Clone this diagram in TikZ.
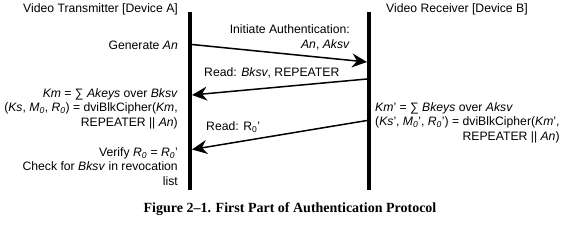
\documentclass[tikz,border=0pt]{standalone}
\usepackage{fontspec}
\setmainfont{Liberation Sans}
\newfontfamily\capfont{Liberation Serif}
\usetikzlibrary{arrows.meta}
\begin{document}
\begin{tikzpicture}[x=1pt,y=-1pt,
  lifeline/.style={line width=4pt},
  msg/.style={line width=1.5pt,-{Stealth[length=15pt,width=14pt,inset=5pt]}},
  lbl/.style={inner sep=0pt,font=\fontsize{12.2}{14.6}\selectfont},
  lblr/.style={lbl,anchor=east,align=right},
  lbll/.style={lbl,anchor=west,align=left}]
\useasboundingbox (0,0) rectangle (567,240);
% lifelines
\coordinate (atop) at (190,12);
\coordinate (abot) at (190,190);
\coordinate (btop) at (369,12);
\coordinate (bbot) at (369,190);
\draw[lifeline] (atop) -- (abot);
\draw[lifeline] (btop) -- (bbot);
% headers
\node[lblr] (hA) at (178,9) {Video Transmitter [Device A]};
\node[lbll] (hB) at (386,9) {Video Receiver [Device B]};
% message 1
\node[lblr] (gen) at (178,45) {Generate \textit{An}};
\coordinate (m1s) at (192,44.5);
\coordinate (m1e) at (367,62);
\draw[msg] (m1s) -- (m1e);
\node[lblr] (m1l) at (350,37.5) {Initiate Authentication:\\\textit{An}, \textit{Aksv}};
% message 2
\coordinate (m2s) at (367,79);
\coordinate (m2e) at (192,95);
\draw[msg] (m2s) -- (m2e);
\node[lbll] (m2l) at (204,73) {Read: \textit{Bksv}, REPEATER};
\node[lblr] (kmA) at (178,108.5) {\textit{Km} = ∑ \textit{Akeys} over \textit{Bksv}\\
(\textit{Ks}, \textit{M\textsubscript{0}}, \textit{R\textsubscript{0}}) = dviBlkCipher(\textit{Km},\\
REPEATER || \textit{An})};
% right block
\node[lbll] (kmB) at (375,122.5) {\textit{Km}' = ∑ \textit{Bkeys} over \textit{Aksv}\\
(\textit{Ks}', \textit{M\textsubscript{0}}', \textit{R\textsubscript{0}}') = dviBlkCipher(\textit{Km}',\\
\hfill REPEATER || \textit{An})};
% message 3
\coordinate (m3s) at (367,120.5);
\coordinate (m3e) at (192,149.5);
\draw[msg] (m3s) -- (m3e);
\node[lbll] (m3l) at (206,127) {Read: R\textsubscript{0}'};
\node[lblr] (ver) at (178,166.5) {Verify \textit{R\textsubscript{0}} = \textit{R\textsubscript{0}}'\\
Check for \textit{Bksv} in revocation\\
list};
% caption
\node[inner sep=0pt,font=\capfont\bfseries\fontsize{14}{16}\selectfont] (cap) at (290,209) {Figure 2–1. First Part of Authentication Protocol};
\end{tikzpicture}
\end{document}
